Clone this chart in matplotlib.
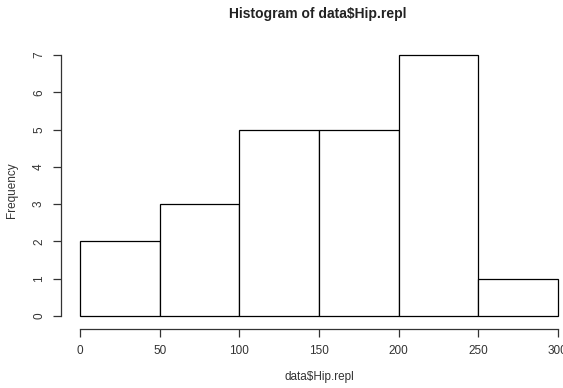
import matplotlib.pyplot as plt
import numpy as np

plt.rc('font', family=['Liberation Sans', 'DejaVu Sans'])

# histogram of the Hip.repl column: bin edges and counts
bin_edges = [0, 50, 100, 150, 200, 250, 300]
counts = [2, 3, 5, 5, 7, 1]
x_ticks = [0, 50, 100, 150, 200, 250, 300]
y_ticks = [0, 1, 2, 3, 4, 5, 6, 7]

fig = plt.figure(figsize=(5.63, 3.88), dpi=100)
ax = fig.add_axes([0.1083, 0.1585, 0.9165, 0.7265])

edges = np.array(bin_edges)
ax.bar(edges[:-1], counts, width=np.diff(edges), align='edge',
       color='white', edgecolor='black', linewidth=0.9)

# R-style extended ranges (4% padding)
ax.set_xlim(-12, 312)
ax.set_ylim(-0.28, 7.28)

for side in ('top', 'right'):
    ax.spines[side].set_visible(False)
ax.spines['left'].set_bounds(0, 7)
ax.spines['bottom'].set_bounds(0, 300)
ax.spines['bottom'].set_position(('outward', 2))
for side in ('left', 'bottom'):
    ax.spines[side].set_color('#333333')
    ax.spines[side].set_linewidth(0.9)

ax.set_xticks(x_ticks)
ax.set_yticks(y_ticks)
ax.tick_params(axis='both', length=5.5, width=0.9, color='#333333',
               labelsize=8.5, labelcolor='#333333')
ax.tick_params(axis='x', pad=6)
ax.tick_params(axis='y', pad=6, labelrotation=90)
for lab in ax.get_yticklabels():
    lab.set_verticalalignment('center')

# title and axis labels placed in figure pixels
W, H = 563, 388
fig.text(318 / W, 1 - 14 / H, 'Histogram of data$Hip.repl', fontsize=10,
         fontweight='bold', color='#222222', ha='center', va='center')
fig.text(319 / W, 1 - 377 / H, 'data$Hip.repl', fontsize=8.5,
         color='#333333', ha='center', va='center')
fig.text(12 / W, 1 - 190 / H, 'Frequency', fontsize=8.5, color='#333333',
         ha='center', va='center', rotation=90)

fig.savefig('out.png', dpi=100)
